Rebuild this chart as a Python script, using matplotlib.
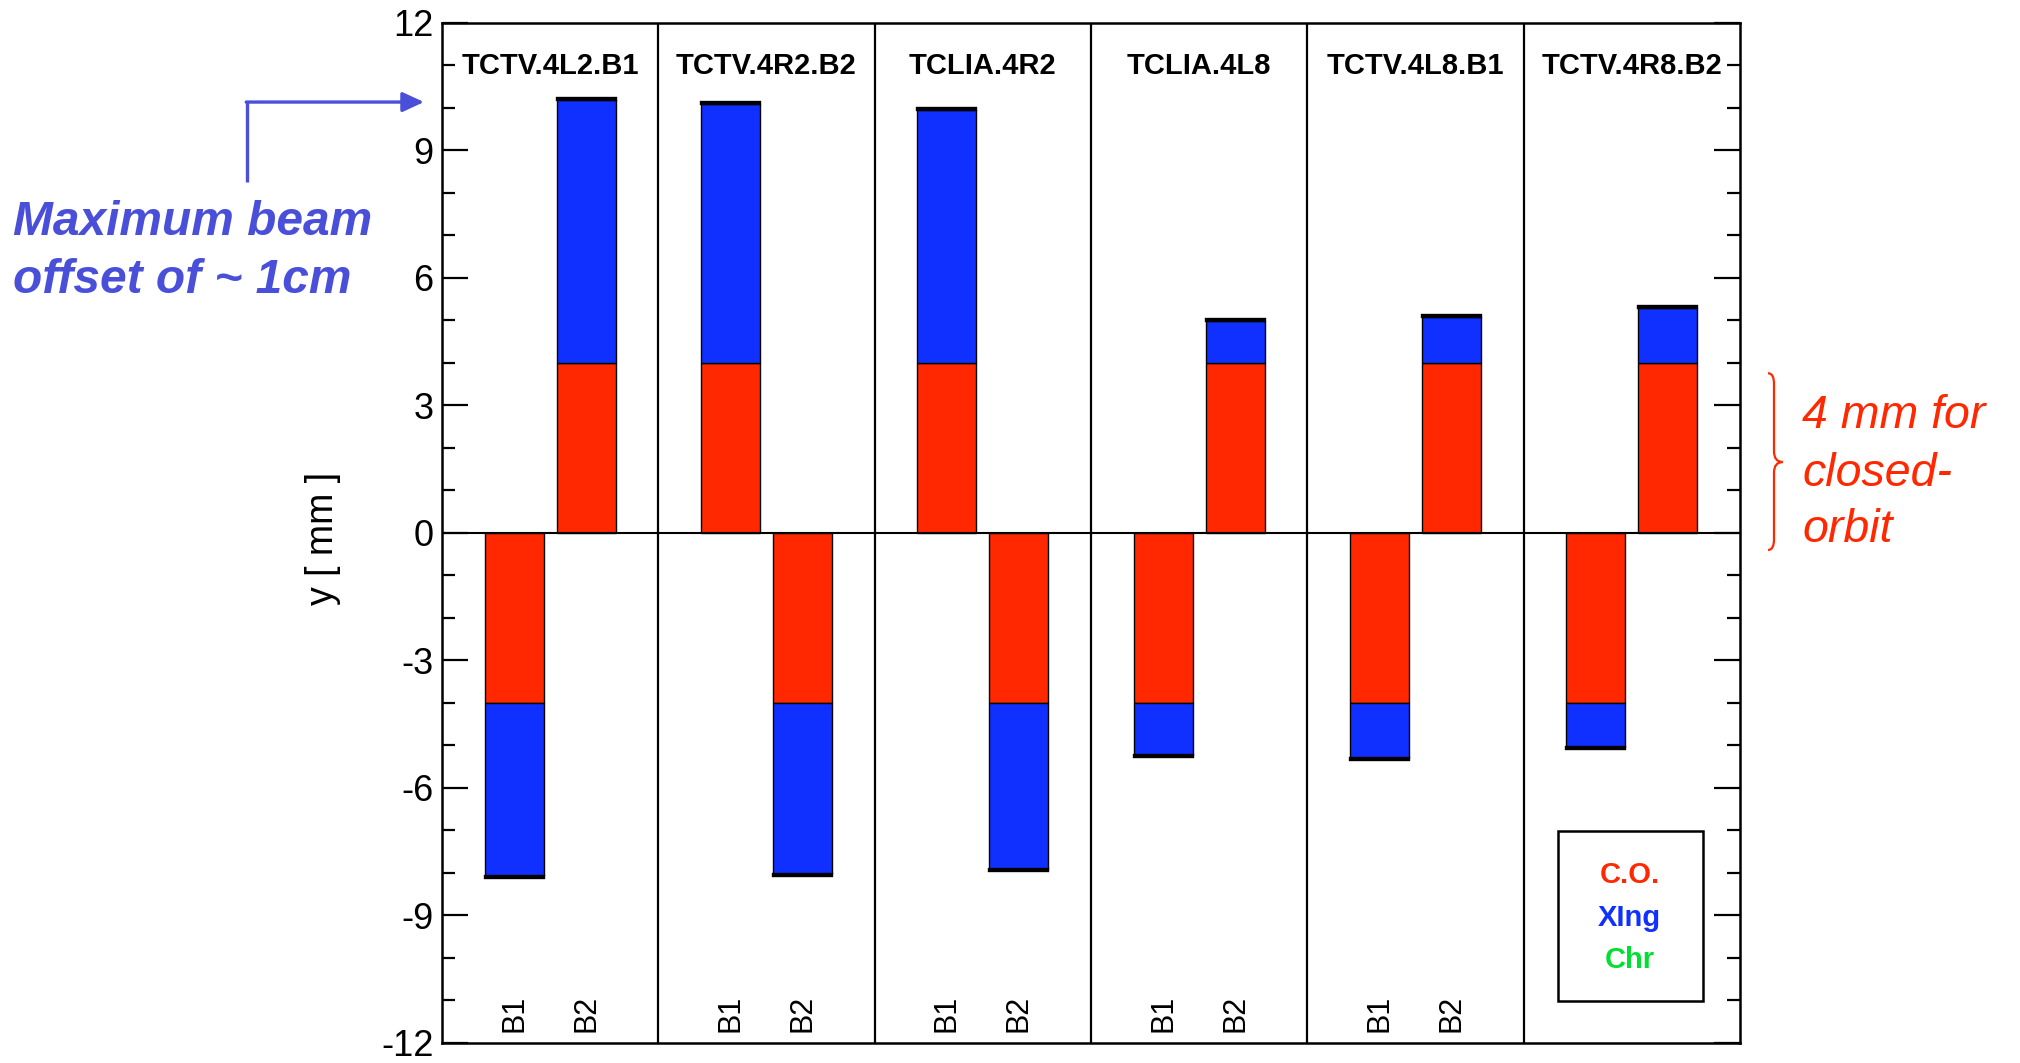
import numpy as np
import matplotlib
matplotlib.use("Agg")
import matplotlib.pyplot as plt
import matplotlib.transforms as mtransforms
from matplotlib.path import Path
from matplotlib.patches import PathPatch, Rectangle

plt.rcParams['font.family'] = ['Liberation Sans', 'DejaVu Sans']
plt.rcParams['axes.unicode_minus'] = False

collimators = ['TCTV.4L2.B1', 'TCTV.4R2.B2', 'TCLIA.4R2',
               'TCLIA.4L8', 'TCTV.4L8.B1', 'TCTV.4R8.B2']
beams = ['B1', 'B2']

# contributions to the beam offset [mm]: closed orbit, crossing, chromatic
co_b1 = [-4.0, 4.0, 4.0, -4.0, -4.0, -4.0]
co_b2 = [4.0, -4.0, -4.0, 4.0, 4.0, 4.0]
xing_b1 = [-4.07, 6.10, 5.96, -1.22, -1.30, -1.04]
xing_b2 = [6.19, -4.03, -3.91, 0.99, 1.08, 1.29]
chr_b1 = [-0.05, 0.05, 0.05, -0.05, -0.05, -0.05]
chr_b2 = [0.05, -0.05, -0.05, 0.05, 0.05, 0.05]

RED = '#FF2800'
BLUE = '#1030FF'
GREEN = '#00E030'
NOTE_BLUE = '#4A4FD9'

fig = plt.figure(figsize=(20.2, 10.63), dpi=100)
ax = fig.add_axes([0.21881, 0.018815, 0.64257, 0.95955])

n = len(collimators)
x_b1 = np.arange(n) * 3 + 1
x_b2 = np.arange(n) * 3 + 2
w = 0.82

for xs, co, xing, chrom in [(x_b1, co_b1, xing_b1, chr_b1),
                            (x_b2, co_b2, xing_b2, chr_b2)]:
    co = np.array(co)
    xing = np.array(xing)
    chrom = np.array(chrom)
    ax.bar(xs, co, w, color=RED, edgecolor='black', linewidth=1.0, zorder=3)
    ax.bar(xs, xing, w, bottom=co, color=BLUE, edgecolor='black', linewidth=1.0, zorder=3)
    # chromatic part is tiny, shows only as a thick edge
    ax.bar(xs, chrom, w, bottom=co + xing, color=GREEN, edgecolor='black', linewidth=1.7, zorder=3)

# panel separators, zero line
for k in range(1, n):
    ax.axvline(3 * k, color='black', lw=1.6, zorder=4)
ax.axhline(0, color='black', lw=1.5, zorder=4)

# collimator names and beam labels (last panel holds the legend instead)
for k, name in enumerate(collimators):
    ax.text(3 * k + 1.5, 10.8, name, ha='center', va='baseline',
            fontsize=21, fontweight='bold', zorder=5)
    if k == n - 1:
        continue
    for xb, b in zip((x_b1[k], x_b2[k]), beams):
        ax.text(xb, -11.74, b, rotation=90, ha='center', va='bottom',
                fontsize=22, zorder=5)

ax.set_xlim(0, 3 * n)
ax.set_ylim(-12, 12)
ax.set_xticks([])
ax.set_yticks(np.arange(-12, 13, 3))
ax.set_yticks(np.arange(-12, 13, 1), minor=True)
ax.tick_params(axis='y', which='both', direction='in', right=True,
               labelsize=26, pad=6, width=1.6)
ax.tick_params(axis='y', which='major', length=19)
ax.tick_params(axis='y', which='minor', length=9.5)
for sp in ax.spines.values():
    sp.set_linewidth(1.8)

ax.set_ylabel('y [ mm ]', fontsize=27, va='center')
ax.yaxis.set_label_coords(-0.0917, 0.495)

# legend box
ax.add_patch(Rectangle((0.860, 0.041), 0.1115, 0.167, transform=ax.transAxes,
                       fill=False, edgecolor='black', lw=1.8, zorder=5))
for yy, lab, c in [(0.1647, 'C.O.', RED), (0.1225, 'XIng', BLUE), (0.0814, 'Chr', GREEN)]:
    ax.text(0.915, yy, lab, transform=ax.transAxes, ha='center', va='center',
            fontsize=21, fontweight='bold', color=c, zorder=5)

# arrow pointing at the maximum offset
blend = mtransforms.blended_transform_factory(ax.transAxes, ax.transData)
ax.plot([-0.150, -0.150], [8.26, 10.14], transform=blend, color=NOTE_BLUE,
        lw=2.4, clip_on=False, solid_capstyle='butt')
ax.annotate('', xy=(-0.0139, 10.14), xycoords=blend,
            xytext=(-0.1508, 10.14), textcoords=blend,
            arrowprops=dict(arrowstyle='-|>,head_length=1.3,head_width=0.6',
                            color=NOTE_BLUE, lw=2.4, shrinkA=0, shrinkB=0),
            annotation_clip=False)
fig.text(13 / 2020, 1 - 235 / 1063, 'Maximum beam', color=NOTE_BLUE,
         fontsize=34.5, fontweight='bold', fontstyle='italic', va='baseline')
fig.text(13 / 2020, 1 - 293 / 1063, 'offset of ~ 1cm', color=NOTE_BLUE,
         fontsize=34.5, fontweight='bold', fontstyle='italic', va='baseline')

# brace for the closed orbit part
x0, x1, x2 = 1.0216, 1.0262, 1.0331
yt, ym, yb, r = 3.76, 1.67, -0.40, 0.25
verts = [(x0, yt), (x1, yt), (x1, yt - r),
         (x1, ym + r), (x1, ym), (x2, ym),
         (x1, ym), (x1, ym - r),
         (x1, yb + r), (x1, yb), (x0, yb)]
codes = [Path.MOVETO, Path.CURVE3, Path.CURVE3,
         Path.LINETO, Path.CURVE3, Path.CURVE3,
         Path.CURVE3, Path.CURVE3,
         Path.LINETO, Path.CURVE3, Path.CURVE3]
ax.add_patch(PathPatch(Path(verts, codes), transform=blend, fill=False,
                       edgecolor=RED, lw=1.6, clip_on=False))
for yy, line in [(428, '4 mm for'), (486, 'closed-'), (542, 'orbit')]:
    fig.text(1802 / 2020, 1 - yy / 1063, line, color=RED, fontsize=33.5,
             fontstyle='italic', va='baseline')

fig.savefig('out.png', dpi=100)
